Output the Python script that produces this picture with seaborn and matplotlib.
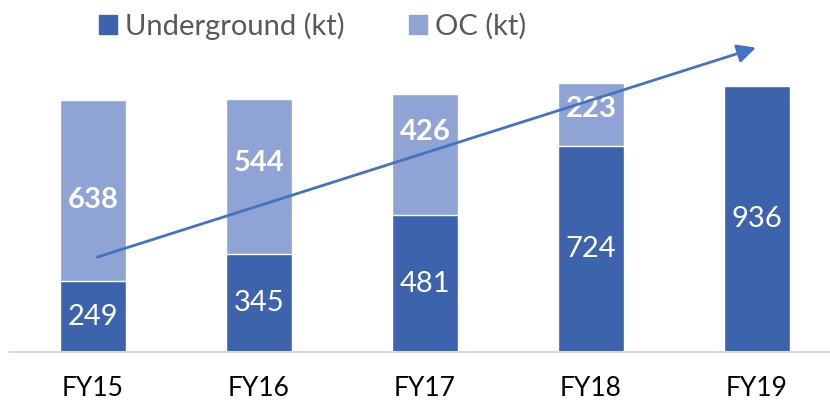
import pandas as pd
import matplotlib
matplotlib.use('Agg')
import matplotlib.pyplot as plt
import seaborn as sns
from matplotlib.patches import Patch

#Data
years = ['FY15', 'FY16', 'FY17', 'FY18', 'FY19']
underground = [249, 345, 481, 724, 936]
oc = [638, 544, 426, 223, 0]

ug_color = '#3D63AD'
oc_color = '#8FA3D5'
arrow_color = '#4472C4'

df = pd.DataFrame({'year': years, 'Underground': underground, 'OC': oc})
df['total'] = df['Underground'] + df['OC']

sns.set_style('white')
plt.rcParams['font.family'] = ['Lato', 'DejaVu Sans']

fig = plt.figure(figsize=(8.3, 4.05), dpi=100)
ax = fig.add_axes([10 / 830, 53 / 405, 820 / 830, 352 / 405])

#stacked bars: total first (OC colour), then underground over it
sns.barplot(x='year', y='total', data=df, color=oc_color, width=0.4,
            saturation=1, ax=ax)
sns.barplot(x='year', y='Underground', data=df, color=ug_color, width=0.4,
            saturation=1, ax=ax)

#OC labels were nudged by hand in the original
oc_shift = [-32, 49, 81, 21, 0]
for i, row in df.iterrows():
    ax.text(i, row['Underground'] / 2, str(row['Underground']), ha='center',
            va='center', color='white', fontsize=21)
    if row['OC'] > 0:
        ax.text(i, row['Underground'] + row['OC'] / 2 + oc_shift[i],
                str(row['OC']), ha='center', va='center', color='white',
                fontsize=21, fontweight='bold')

#trend arrow
ax.annotate('', xy=(4.01, 1074), xytext=(0.01, 331), zorder=10,
            arrowprops=dict(arrowstyle='-|>', color=arrow_color, lw=2,
                            mutation_scale=28))

ax.set_xlim(-0.5, 4.44)
ax.set_ylim(0, 1239)
ax.set_xlabel('')
ax.set_ylabel('')
ax.set_yticks([])
for s in ['top', 'left', 'right']:
    ax.spines[s].set_visible(False)
ax.spines['bottom'].set_color('#D9D9D9')
ax.spines['bottom'].set_linewidth(1.5)
ax.tick_params(axis='x', length=0, pad=17, labelsize=19, labelcolor='black')

handles = [Patch(color=ug_color, label='Underground (kt)'),
           Patch(color=oc_color, label='OC (kt)')]
fig.legend(handles=handles, loc='center', bbox_to_anchor=(0.377, 0.936),
           ncol=2, frameon=False, fontsize=21, labelcolor='#595959',
           handlelength=0.6, handleheight=0.6, handletextpad=0.3,
           columnspacing=2.2)

plt.savefig('out.png', dpi=100)
